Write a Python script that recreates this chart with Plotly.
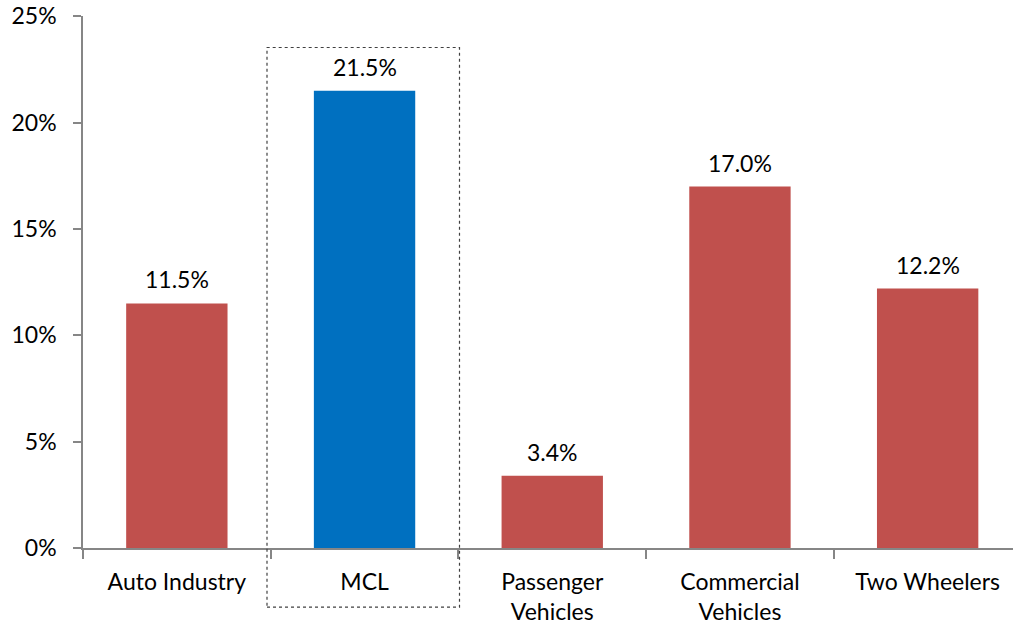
import plotly.graph_objects as go

categories = ["Auto Industry", "MCL", "Passenger<br>Vehicles", "Commercial<br>Vehicles", "Two Wheelers"]
values = [11.5, 21.5, 3.4, 17.0, 12.2]
bar_colors = ["#C0504D", "#0070C0", "#C0504D", "#C0504D", "#C0504D"]
y_ticks = [0, 5, 10, 15, 20, 25]
y_tick_text = ["0%", "5%", "10%", "15%", "20%", "25%"]

FONT = "Lato"
FS = 23
W, H = 1013, 627
ml, mt, mb = 83, 16, 627 - 548.3
plot_w = W - ml
plot_h = H - mt - mb
cat_px = 187.7
x_max = -0.5 + plot_w / cat_px

fig = go.Figure()
fig.add_trace(go.Bar(
    x=categories, y=values,
    marker=dict(color=bar_colors, line=dict(width=0)),
    width=0.54,
    hoverinfo="skip",
))

for c, v in zip(categories, values):
    fig.add_annotation(x=c, y=v, text=f"{v:.1f}%", showarrow=False,
                       yanchor="bottom", yshift=8,
                       font=dict(family=FONT, size=FS, color="#000000"))

# dotted highlight box around MCL (pixel positions converted to paper)
def px_x(p):
    return (p - ml) / plot_w
def px_y(p):
    return (H - mb - p) / plot_h
fig.add_shape(type="rect", xref="paper", yref="paper",
              x0=px_x(267), x1=px_x(459.5), y0=px_y(607.5), y1=px_y(47.5),
              line=dict(color="#404040", width=1.2, dash="dot"), layer="above")

fig.update_layout(
    width=W, height=H,
    margin=dict(l=ml, r=0, t=mt, b=mb, pad=0, autoexpand=False),
    plot_bgcolor="white", paper_bgcolor="white",
    showlegend=False,
    font=dict(family=FONT, size=FS, color="#000000"),
    xaxis=dict(
        type="category", range=[-0.5, x_max], automargin=False,
        showline=True, linecolor="#868686", linewidth=1.5,
        ticks="outside", tickson="boundaries", ticklen=9, tickwidth=1.5, tickcolor="#868686",
        ticklabelstandoff=13,
        showgrid=False, zeroline=False,
        tickfont=dict(family=FONT, size=FS),
    ),
    yaxis=dict(
        range=[0, 25.02], tickmode="array", tickvals=y_ticks, ticktext=y_tick_text,
        automargin=False,
        showline=True, linecolor="#868686", linewidth=1.5,
        ticks="outside", ticklen=8, tickwidth=1.5, tickcolor="#868686",
        ticklabelstandoff=12, ticklabeloverflow="allow",
        showgrid=False, zeroline=False,
        tickfont=dict(family=FONT, size=FS),
    ),
)

fig.write_html("out.html", config={"displayModeBar": False},
               post_script="document.body.style.margin='0';")
